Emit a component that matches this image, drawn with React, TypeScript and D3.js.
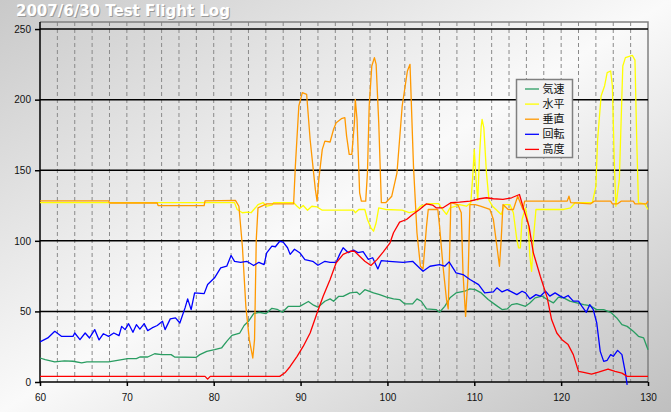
import React, { useRef, useEffect } from 'react';
import * as d3 from 'd3';

type Pt = [number, number];

const xTicks = [60, 70, 80, 90, 100, 110, 120, 130];
const yTicks = [0, 50, 100, 150, 200, 250];
const seriesNames = ['気速', '水平', '垂直', '回転', '高度'];
const seriesColors = ['#2a9d62', '#ffff00', '#ff9900', '#0000ff', '#ff0000'];

// 気速
const airspeed: Pt[] = [
  [60, 17], [60.6, 15.8], [61.7, 14.2], [62.8, 14.9], [63.8, 14.7], [64.8, 13.5], [65.4, 14.2], [67.9, 14.2],
  [70.1, 16.5], [71.1, 16.5], [71.5, 17.7], [72.4, 17.7], [73.2, 20], [74, 19.4], [75.1, 19.4], [75.5, 17.7],
  [78, 17.5], [78.4, 19.4], [79.2, 21.7], [80.1, 22.9], [80.9, 24.1], [81.5, 28.8], [82.1, 33], [83, 34.7],
  [83.5, 40], [84, 43], [84.6, 48.4], [85.2, 49.4], [86, 48.4], [86.7, 52.2], [87.3, 51.5], [87.9, 49.4],
  [88.6, 53.6], [89.9, 53.6], [90.9, 57], [91.5, 54.4], [92, 53], [92.8, 57.2], [93.4, 58.9], [93.8, 57.2],
  [94.4, 60.7], [94.9, 60.7], [95.7, 63.1], [96.5, 63.6], [96.8, 61.9], [97.4, 65.4], [98.4, 63.1], [99.1, 61.9],
  [99.9, 60.2], [100.7, 58.9], [101.4, 58.4], [102, 55.3], [102.9, 55.3], [103.4, 58.9], [103.9, 57.2], [104.5, 51.8],
  [105.6, 51.3], [106, 49.4], [106.6, 53.6], [107.2, 59.6], [107.9, 63.1], [108.9, 64.3], [109.5, 66], [110.1, 65.4],
  [110.8, 63.1], [111.6, 58.4], [112.4, 54.8], [113.2, 51.3], [113.8, 51.8], [114.3, 54.8], [114.9, 55.5], [115.9, 53.6],
  [116.4, 56], [117, 59.6], [117.8, 60.8], [118.4, 58.4], [119.1, 56], [119.7, 60.1], [120.3, 59.6], [121, 57.3],
  [121.8, 56], [122.6, 54.8], [123.3, 54.1], [124.1, 51.3], [124.9, 51.3], [125.8, 48.9], [126.4, 45.4], [127, 40.6],
  [127.6, 39.4], [128.3, 35.9], [128.9, 32.4], [129.5, 31.2], [130, 22.9],
];

// 水平
const horizontal: Pt[] = [
  [60, 127], [82.4, 127], [82.7, 122.2], [83.3, 119.9], [83.9, 120.3], [84.3, 119.9], [84.8, 123.4], [85.1, 125.7],
  [85.7, 127], [86.1, 124.5], [86.7, 125.3], [86.9, 127], [89.2, 127], [89.6, 124.5], [89.9, 122.9], [90.3, 125],
  [90.8, 121.7], [91.3, 124.5], [91.9, 124], [92.5, 121.7], [96.1, 121.7], [96.3, 119.9], [96.7, 122.2], [97.4, 122.2],
  [97.7, 115.1], [98.1, 109.2], [98.4, 106.8], [98.7, 112.8], [99, 123.4], [99.8, 122.2], [101.7, 121.7], [102.5, 119.9],
  [103.3, 121], [103.8, 124.5], [104.4, 125.7], [104.8, 126.4], [105.9, 126.4], [106.2, 123.4], [106.8, 118.7], [107.2, 123.4],
  [107.9, 124.5], [108.3, 125.7], [109.1, 124.5], [109.6, 127], [109.8, 143.5], [110, 164.8], [110.2, 143.5], [110.4, 128.6],
  [110.6, 160], [110.8, 181.3], [110.9, 186], [111.1, 180], [111.4, 148.2], [111.7, 128.6], [112.1, 124.5], [112.5, 122.2],
  [113.1, 118.7], [113.5, 125.7], [114.1, 125.7], [114.5, 119.9], [114.9, 100.9], [115.1, 95], [115.3, 95], [115.5, 115.1],
  [115.9, 123.4], [116.2, 112.8], [116.4, 89.1], [116.6, 78.4], [116.8, 100.9], [117.1, 122.2], [120.3, 122.2], [121.1, 123.4],
  [121.6, 127], [123.6, 127], [124, 138.8], [124.2, 171.8], [124.6, 202.6], [125, 209.7], [125.3, 219.1], [125.7, 220.3],
  [125.9, 209.7], [126.1, 160], [126.3, 124.5], [126.7, 143.5], [127.1, 223.8], [127.4, 229.8], [128.2, 231.4], [128.5, 228],
  [128.7, 171.8], [128.9, 127], [129.6, 126.2], [130, 122.2],
];

// 垂直
const vertical: Pt[] = [
  [60, 128.3], [67.9, 128.3], [68, 126.8], [73.5, 126.8], [73.6, 124.9], [78.9, 124.9], [79, 128.3], [82.5, 128.6],
  [82.9, 124.5], [83.3, 96.2], [83.7, 53.6], [84.1, 30], [84.5, 17], [84.7, 30], [84.9, 100.9], [85.1, 123.4],
  [86.1, 126.2], [89.2, 126.2], [89.4, 152.9], [89.8, 195.5], [90.2, 205], [90.7, 203.8], [91.1, 171.8], [91.7, 136.4],
  [91.9, 128.1], [92.1, 143.5], [92.5, 164.8], [92.8, 170.6], [93.4, 170], [93.8, 179], [94.1, 183.7], [94.7, 186.5],
  [95.1, 187.2], [95.3, 174.2], [95.6, 161.2], [95.9, 161.2], [96.2, 183.7], [96.3, 200.2], [96.5, 186], [96.8, 134],
  [97, 128.1], [97.5, 128.1], [97.7, 148.2], [97.9, 195.5], [98.2, 223.8], [98.5, 229.8], [98.7, 225], [99, 183.7],
  [99.3, 127], [99.8, 127], [100.5, 131.6], [101.1, 148.2], [101.7, 195.5], [102.3, 220.3], [102.6, 225], [103, 152.9],
  [103.4, 105.7], [103.8, 82], [104.1, 80.1], [104.5, 110.4], [104.7, 122.2], [105.8, 122.2], [106, 110.4], [106.4, 82],
  [106.8, 58.4], [107, 51.8], [107.2, 100.9], [107.3, 127], [108.1, 125.7], [108.5, 119.9], [108.7, 77.3], [109, 46.5],
  [109.3, 77.3], [109.5, 125.7], [110.1, 125.7], [110.7, 124.5], [111.8, 122.2], [112.2, 115.1], [112.6, 96.2], [112.9, 82],
  [113.1, 100.9], [113.3, 125.7], [113.9, 122.2], [114.5, 122.2], [115, 131.6], [115.6, 122.2], [115.8, 128.1], [120.7, 128.1],
  [120.9, 131.6], [121.1, 127], [123.4, 126.2], [123.8, 128.1], [125.7, 128.1], [125.9, 126.2], [126.5, 126.2], [126.9, 128.1],
  [128.3, 128.1], [128.5, 126.2], [129.8, 126.2], [130, 128.1],
];

// 回転
const rotation: Pt[] = [
  [60, 28.4], [60.9, 31.2], [61.7, 35.9], [62.5, 32.3], [63.8, 32.3], [64, 34.7], [64.6, 30], [65.2, 34.7],
  [65.7, 31.2], [66.3, 37.1], [66.8, 29.8], [67.3, 34.2], [67.9, 32.3], [68.5, 34.7], [69.1, 32.8], [69.4, 39.4],
  [69.8, 37.1], [70.2, 41.3], [70.7, 35.2], [71.1, 40.6], [71.5, 37.5], [72, 41.3], [72.4, 36.4], [72.9, 38.3],
  [73.5, 40], [74.1, 43], [74.4, 37.1], [75, 44.7], [75.6, 45.4], [76.1, 41.8], [76.7, 52.5], [77, 58.9],
  [77.4, 51.3], [77.8, 63.1], [78.9, 62.6], [79.3, 69], [80.1, 73.8], [80.8, 80.9], [81.5, 82], [82, 89.6],
  [82.4, 85.5], [83.1, 84.8], [83.8, 85.5], [84.6, 82.5], [85.2, 84.8], [85.8, 83.2], [86.1, 91.5], [86.7, 96.2],
  [87.1, 95.8], [87.6, 99.7], [88, 99.1], [88.5, 95.1], [88.8, 90.4], [89.3, 94], [89.9, 91.6], [90.5, 86.7],
  [91.4, 85.5], [92, 82.7], [92.8, 85.5], [93.4, 84.8], [94.1, 84.8], [94.5, 90.4], [94.9, 95.1], [95.5, 91.6],
  [96.1, 93.4], [96.6, 91.6], [97.2, 92.3], [97.8, 86.8], [98.3, 88], [98.9, 80.1], [99.3, 86], [100.2, 85.5],
  [101.8, 84.8], [102.9, 85.5], [103.7, 80.8], [104.1, 78.4], [104.9, 82], [106, 83.2], [106.6, 82], [107.1, 85.1],
  [107.9, 77.3], [108.7, 76.1], [109.5, 72.6], [110.5, 69], [111.2, 63.1], [112.2, 63.8], [112.6, 66.7], [113.2, 63.8],
  [113.8, 65.4], [114.3, 63.8], [114.9, 61.9], [115.5, 64.3], [115.9, 63.1], [116.4, 58.9], [117.1, 61.9], [117.6, 60.8],
  [118.2, 64.3], [118.7, 60.8], [119.3, 63.1], [119.9, 60.8], [120.3, 59.6], [120.8, 61.3], [121.4, 57.3], [122, 57.3],
  [122.4, 53.6], [122.9, 49.4], [123.3, 54.8], [123.7, 51.3], [124.1, 41.8], [124.5, 21.7], [124.9, 14.6], [125.3, 15.4],
  [125.7, 19.4], [126, 18.2], [126.5, 22.4], [127, 19.4], [127.4, 6.4], [127.6, -2],
];

// 高度
const altitude: Pt[] = [
  [60, 4], [79, 4], [79.3, 2], [79.6, 4], [87.6, 4], [88.2, 6.5], [88.8, 11], [89.6, 18.2],
  [90.3, 25.2], [91.1, 34.7], [91.9, 48.9], [92.6, 60.7], [93.4, 72.6], [94.1, 84.4], [94.9, 90.4], [95.7, 92.6],
  [96.2, 92.6], [96.8, 89.1], [97.4, 85.5], [98.1, 82.5], [98.8, 86.7], [99.5, 92], [100.3, 98.6], [100.7, 105.7],
  [101.4, 113.2], [102.2, 115.1], [102.9, 118.6], [103.7, 122.2], [104.5, 126.2], [105.2, 125.3], [105.6, 123.4], [106.4, 123.4],
  [107.3, 127], [108.3, 127.4], [109.5, 128.1], [110.6, 129.8], [111.4, 130.5], [112.2, 129.8], [113.3, 129.3], [114.3, 130.5],
  [115.2, 132.8], [115.7, 122.2], [116.3, 110.4], [116.8, 91.5], [117.6, 74.9], [118.4, 59.6], [118.9, 44.2], [119.5, 34.7],
  [120.1, 30], [120.8, 26.5], [121.4, 19.4], [122, 7.5], [122.6, 6.8], [123.5, 5.6], [124.3, 7], [125.4, 9.2],
  [126.2, 7.5], [127, 6.3], [127.6, 4], [130, 4],
];

const seriesData = [airspeed, horizontal, vertical, rotation, altitude];

const FlightChart: React.FC = () => {
  const svgRef = useRef<SVGSVGElement>(null);

  useEffect(() => {
    const width = 671;
    const height = 412;
    const m = { left: 40, right: 23, top: 22, bottom: 30 };
    const svg = d3.select(svgRef.current);
    svg.selectAll('*').remove();
    svg.attr('width', width).attr('height', height);

    const defs = svg.append('defs');
    const bg = defs.append('linearGradient').attr('id', 'bg')
      .attr('x1', 0).attr('y1', 0).attr('x2', 1).attr('y2', 1);
    bg.append('stop').attr('offset', '0%').attr('stop-color', '#c9c9c9');
    bg.append('stop').attr('offset', '50%').attr('stop-color', '#fafafa');
    bg.append('stop').attr('offset', '100%').attr('stop-color', '#bfbfbf');

    svg.append('rect').attr('width', width).attr('height', height).attr('fill', 'url(#bg)');

    const x = d3.scaleLinear().domain([60, 130]).range([m.left, width - m.right]);
    const y = d3.scaleLinear().domain([0, 255]).range([height - m.bottom, m.top]);

    // title
    const title = '2007/6/30 Test Flight Log';
    svg.append('text').attr('x', 17).attr('y', 17).text(title)
      .attr('font-family', 'DejaVu Sans').attr('font-weight', 'bold').attr('font-size', 15)
      .attr('fill', '#9a9a9a');
    svg.append('text').attr('x', 16).attr('y', 16).text(title)
      .attr('font-family', 'DejaVu Sans').attr('font-weight', 'bold').attr('font-size', 15)
      .attr('fill', '#ffffff');

    // vertical dashed grid every 2 units
    const vGrid = d3.range(62, 130, 2);
    svg.append('g').selectAll('line').data(vGrid).enter().append('line')
      .attr('x1', d => x(d)).attr('x2', d => x(d))
      .attr('y1', y.range()[1]).attr('y2', y(0))
      .attr('stroke', '#8a8a8a').attr('stroke-width', 1).attr('stroke-dasharray', '4,3');

    // plot border (top & right)
    svg.append('path')
      .attr('d', `M${x(60)},${y.range()[1]}H${x(130)}V${y(0)}`)
      .attr('fill', 'none').attr('stroke', '#808080').attr('stroke-width', 1.5);

    // horizontal grid lines
    svg.append('g').selectAll('line').data(yTicks.filter(d => d > 0)).enter().append('line')
      .attr('x1', x(60)).attr('x2', x(130))
      .attr('y1', d => y(d)).attr('y2', d => y(d))
      .attr('stroke', '#000').attr('stroke-width', 1.5);

    // axes
    const yAxis = svg.append('g').attr('transform', `translate(${x(60)},0)`)
      .call(d3.axisLeft(y).tickValues(yTicks).tickSize(5).tickPadding(4));
    const xAxis = svg.append('g').attr('transform', `translate(0,${y(0)})`)
      .call(d3.axisBottom(x).tickValues(xTicks).tickSize(4).tickPadding(8));
    [yAxis, xAxis].forEach(ax => {
      ax.select('.domain').attr('stroke', '#000').attr('stroke-width', 1.5);
      ax.selectAll('.tick line').attr('stroke', '#000').attr('stroke-width', 1.5);
      ax.selectAll('.tick text').attr('font-family', 'Liberation Sans').attr('font-size', 10).attr('fill', '#111');
    });
    yAxis.select('.domain').attr('d', `M0,${y.range()[1]}V${y(0)}`);
    xAxis.select('.domain').attr('d', `M${x(60)},0H${x(130)}`);

    // series
    const line = d3.line<Pt>().x(d => x(d[0])).y(d => y(d[1]));
    svg.append('g').selectAll('path').data(seriesData).enter().append('path')
      .attr('d', d => line(d))
      .attr('fill', 'none')
      .attr('stroke', (_, i) => seriesColors[i])
      .attr('stroke-width', 1.3)
      .attr('stroke-linejoin', 'round');

    // legend
    const lg = svg.append('g').attr('transform', 'translate(516.5,79.5)');
    lg.append('rect').attr('width', 56).attr('height', 78)
      .attr('fill', '#f3f3f3').attr('stroke', '#808080').attr('stroke-width', 1.5);
    const items = lg.selectAll('g.item').data(seriesNames).enter().append('g')
      .attr('transform', (_, i) => `translate(0,${9.5 + i * 15.1})`);
    items.append('line').attr('x1', 8.5).attr('x2', 22.5)
      .attr('stroke', (_, i) => seriesColors[i]).attr('stroke-width', 1.3);
    items.append('text').attr('x', 26).attr('dy', '0.36em').text(d => d)
      .attr('font-family', 'Noto Sans CJK JP').attr('font-size', 11).attr('fill', '#111');
  }, []);

  return <svg ref={svgRef} style={{ display: 'block' }} />;
};

export default function App() {
  return (
    <div style={{ position: 'fixed', left: 0, top: 0 }}>
      <FlightChart />
    </div>
  );
}
